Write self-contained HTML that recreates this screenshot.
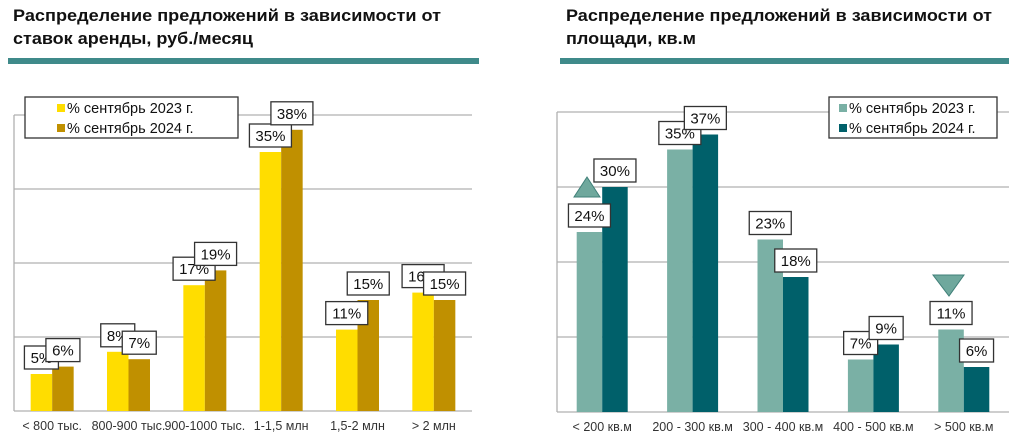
<!DOCTYPE html>
<html><head><meta charset="utf-8"><style>
body{margin:0;background:#fff;}
svg{display:block;font-family:"Liberation Sans",Arial,sans-serif;}
</style></head><body>
<svg id="c" width="1024" height="438" viewBox="0 0 1024 438" xmlns="http://www.w3.org/2000/svg">
<text x="13" y="21" font-size="17" font-weight="bold" fill="#111" textLength="428" lengthAdjust="spacingAndGlyphs">Распределение предложений в зависимости от</text>
<text x="13" y="44" font-size="17" font-weight="bold" fill="#111" textLength="240" lengthAdjust="spacingAndGlyphs">ставок аренды, руб./месяц</text>
<rect x="8" y="58" width="471" height="6" fill="#3f8a8a"/>
<text x="566" y="21" font-size="17" font-weight="bold" fill="#111" textLength="426" lengthAdjust="spacingAndGlyphs">Распределение предложений в зависимости от</text>
<text x="566" y="44" font-size="17" font-weight="bold" fill="#111" textLength="130" lengthAdjust="spacingAndGlyphs">площади, кв.м</text>
<rect x="560" y="58" width="449" height="6" fill="#3f8a8a"/>
<g id="left"></g>
<g id="right"></g>
</svg>
<script>
const leftCategories=["< 800 тыс.","800-900 тыс.","900-1000 тыс.","1-1,5 млн","1,5-2 млн","> 2 млн"];
const left2023=[5,8,17,35,11,16];
const left2024=[6,7,19,38,15,15];
const rightCategories=["< 200 кв.м","200 - 300 кв.м","300 - 400 кв.м","400 - 500 кв.м","> 500 кв.м"];
const right2023=[24,35,23,7,11];
const right2024=[30,37,18,9,6];
const yTicks=[0,10,20,30,40];
const legendLabels=["% сентябрь 2023 г.","% сентябрь 2024 г."];
const NS="http://www.w3.org/2000/svg";
function mk(p,t,a){const e=document.createElementNS(NS,t);for(const k in a)e.setAttribute(k,a[k]);p.appendChild(e);return e;}
function chart(g,cfg,cats,s1,s2){
  const y=v=>cfg.base-(v/40)*(cfg.base-cfg.top);
  const gw=(cfg.right-cfg.left)/cats.length;
  yTicks.forEach(t=>{const l=mk(g,'line',{x1:cfg.left,x2:cfg.right,y1:y(t),y2:y(t),stroke:'#b0b0b0','stroke-width':1.3});
    
    });
  const ax=mk(g,'line',{x1:cfg.left,x2:cfg.left,y1:y(40),y2:y(0),stroke:'#b0b0b0','stroke-width':1.3});
  
  
  const labels=[];
  cats.forEach((c,i)=>{
    const cx=cfg.left+gw*(i+0.5);
    [[s1,cfg.c1,-1],[s2,cfg.c2,0]].forEach(([s,col,off],k)=>{
      const x=cx+off*cfg.bw;
      const r=mk(g,'rect',{x:x,y:y(s[i]),width:cfg.bw,height:y(0)-y(s[i]),fill:col});
      
      
      labels.push([x+cfg.bw/2,y(s[i]),s[i]]);
    });
    const t=mk(g,'text',{x:cx,y:cfg.catY,'font-size':12.5,fill:'#333','text-anchor':'middle'});
    t.textContent=c;
    
    
  });
  labels.forEach(([lx,ly,v])=>{
    const w=v<10?34:42;
    const b=mk(g,'rect',{x:lx-w/2,y:ly-28,width:w,height:23,fill:'#fff',stroke:'#333','stroke-width':1.3});
    
    
    const t=mk(g,'text',{x:lx,y:ly-11,'font-size':15,fill:'#111','text-anchor':'middle'});
    t.textContent=v+'%';
    
    
  });
  const lg=mk(g,'g',{});
  
  
  mk(lg,'rect',{x:cfg.lx,y:97,width:cfg.lw,height:41,fill:'#fff',stroke:'#333','stroke-width':1.3});
  [cfg.c1,cfg.c2].forEach((col,k)=>{
    mk(lg,'rect',{x:cfg.lx+cfg.sx,y:104+k*20,width:8,height:8,fill:col});
    const t=mk(lg,'text',{x:cfg.lx+cfg.sx+10,y:113+k*20,'font-size':14.5,fill:'#111'});
    t.textContent=legendLabels[k];
    
    
  });
  return {y,gw};
}
const L=chart(document.getElementById('left'),{left:14,right:472,top:115,base:411,bw:21.5,c1:'#FFDD00',c2:'#C09000',catY:430,lx:25,lw:213,sx:32,},leftCategories,left2023,left2024);
const rg=document.getElementById('right');
const R=chart(rg,{left:557,right:1009,top:112,base:412,bw:25.5,c1:'#7AB0A5',c2:'#00606A',catY:431,lx:829,lw:168,sx:10},rightCategories,right2023,right2024);
const up=mk(rg,'polygon',{points:'574,197 587,177 600,197',fill:'#6FA89D',stroke:'#3f7f78','stroke-width':1});


const dn=mk(rg,'polygon',{points:'933,275 964,275 949,296',fill:'#6FA89D',stroke:'#3f7f78','stroke-width':1});


</script>
</body></html>
